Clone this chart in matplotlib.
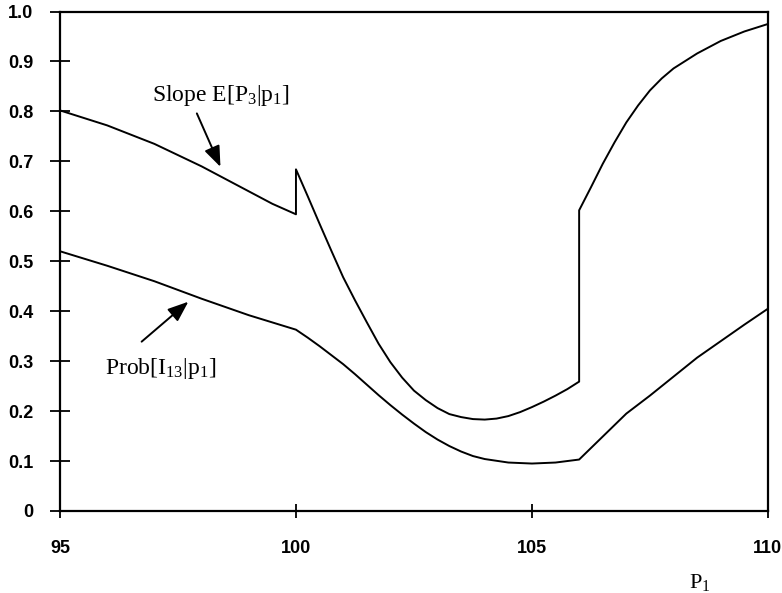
import matplotlib
matplotlib.use('Agg')
import matplotlib.pyplot as plt

# upper curve: slope of E[P3|p1] (repeated x = vertical jumps)
slope_x = [95, 96, 97, 98, 99, 99.5, 100,
           100, 100.25, 100.5, 100.75, 101, 101.25, 101.5, 101.75, 102, 102.25,
           102.5, 102.75, 103, 103.25, 103.5, 103.75, 104, 104.25, 104.5, 104.75,
           105, 105.25, 105.5, 105.75, 106,
           106, 106.25, 106.5, 106.75, 107, 107.25, 107.5, 107.75, 108, 108.5,
           109, 109.5, 110]
slope_y = [0.802, 0.772, 0.735, 0.690, 0.640, 0.615, 0.594,
           0.684, 0.630, 0.575, 0.521, 0.468, 0.422, 0.378, 0.335, 0.298, 0.267,
           0.241, 0.222, 0.206, 0.194, 0.188, 0.184, 0.183, 0.185, 0.190, 0.198,
           0.208, 0.219, 0.231, 0.244, 0.259,
           0.602, 0.648, 0.695, 0.738, 0.778, 0.812, 0.842, 0.866, 0.886, 0.916,
           0.941, 0.960, 0.975]

# lower curve: Prob[I13|p1]
prob_x = [95, 96, 97, 98, 99, 100, 100.25, 100.5, 100.75, 101, 101.25, 101.5,
          101.75, 102, 102.25, 102.5, 102.75, 103, 103.25, 103.5, 103.75, 104,
          104.5, 105, 105.5, 106, 106.5, 107, 107.5, 108, 108.5, 109, 109.5, 110]
prob_y = [0.520, 0.491, 0.460, 0.425, 0.392, 0.363, 0.347, 0.330, 0.312, 0.294,
          0.274, 0.253, 0.232, 0.212, 0.193, 0.175, 0.158, 0.143, 0.130, 0.119,
          0.110, 0.104, 0.097, 0.095, 0.097, 0.103, 0.149, 0.195, 0.231, 0.269,
          0.307, 0.340, 0.373, 0.405]

x_ticks = [95, 100, 105, 110]
y_ticks = [0, 0.1, 0.2, 0.3, 0.4, 0.5, 0.6, 0.7, 0.8, 0.9, 1.0]
y_labels = ['0', '0.1', '0.2', '0.3', '0.4', '0.5', '0.6', '0.7', '0.8', '0.9', '1.0']

plt.rcParams['mathtext.fontset'] = 'custom'
plt.rcParams['mathtext.rm'] = 'Liberation Serif'
plt.rcParams['mathtext.it'] = 'Liberation Serif'

fig = plt.figure(figsize=(7.82, 5.93), dpi=100)
ax = fig.add_axes([0.0767, 0.1383, 0.9053, 0.8423])

ax.plot(slope_x, slope_y, color='black', lw=1.4)
ax.plot(prob_x, prob_y, color='black', lw=1.4)

ax.set_xlim(95, 110)
ax.set_ylim(0, 1.0)
ax.set_xticks(x_ticks)
ax.set_xticklabels([str(t) for t in x_ticks])
ax.set_yticks(y_ticks)
ax.set_yticklabels(y_labels)
for lab in ax.get_xticklabels() + ax.get_yticklabels():
    lab.set_fontfamily('Liberation Sans')
    lab.set_fontweight('bold')
    lab.set_fontsize(13)
ax.tick_params(axis='y', direction='inout', length=14, width=1.3, pad=12)
ax.tick_params(axis='x', direction='inout', length=10, width=1.3, pad=16)
for s in ax.spines.values():
    s.set_linewidth(1.6)

fig.text(0.895, 0.0185, r'P$_1$', ha='center', va='center',
         fontfamily='Liberation Serif', fontsize=16)

serif = dict(ha='left', va='center', fontfamily='Liberation Serif', fontsize=17)
ax.text(96.95, 0.831, r'Slope E[P$_3$|p$_1$]', **serif)
ax.text(95.96, 0.286, r'Prob[I$_{13}$|p$_1$]', **serif)

arrow = dict(arrowstyle='-|>,head_length=0.9,head_width=0.35', color='black',
             lw=1.4, mutation_scale=14, shrinkA=0, shrinkB=0)
ax.annotate('', xy=(98.40, 0.689), xytext=(97.90, 0.796), arrowprops=arrow)
ax.annotate('', xy=(97.72, 0.419), xytext=(96.73, 0.339), arrowprops=arrow)

plt.savefig('out.png')
plt.close()
